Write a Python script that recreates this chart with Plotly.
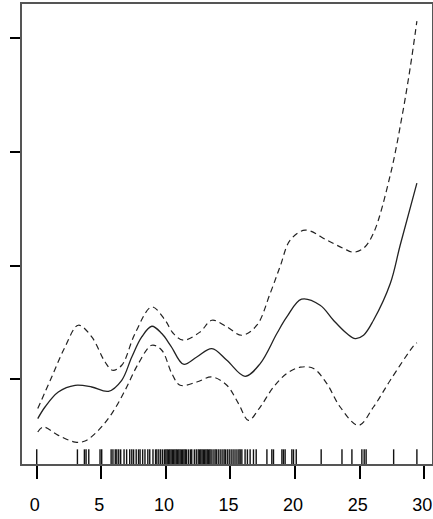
import plotly.graph_objects as go

# Smooth term estimate s(x) with its pointwise confidence band
fit_x = [0.08, 0.64, 1.67, 2.97, 4.26, 5.55, 6.58, 7.36, 8.13, 8.91, 9.68, 10.4,
         11.36, 12.39, 13.56, 14.72, 16.13, 17.3, 18.59, 19.36, 20.5, 21.94, 22.97,
         24.01, 24.66, 25.3, 26.07, 27.37, 28.14, 29.43]
fit_y = [-0.346, -0.244, -0.112, -0.053, -0.068, -0.106, -0.009, 0.196, 0.372,
         0.466, 0.402, 0.290, 0.132, 0.196, 0.270, 0.167, 0.026, 0.138, 0.402,
         0.548, 0.704, 0.651, 0.519, 0.402, 0.358, 0.387, 0.519, 0.842, 1.180,
         1.724]

upper_x = [0.08, 1.16, 2.19, 3.22, 4.26, 5.29, 5.86, 6.58, 7.61, 8.91, 9.94, 10.58,
           11.36, 12.65, 13.56, 14.72, 15.88, 17.04, 18.07, 18.85, 19.62, 20.78,
           22.46, 23.75, 24.52, 25.3, 26.07, 27.37, 28.27, 28.92, 29.43]
upper_y = [-0.258, 0.020, 0.284, 0.475, 0.372, 0.152, 0.079, 0.123, 0.402, 0.636,
           0.519, 0.402, 0.343, 0.416, 0.519, 0.460, 0.387, 0.475, 0.754, 0.994,
           1.223, 1.311, 1.223, 1.150, 1.117, 1.152, 1.284, 1.795, 2.305, 2.745,
           3.149]

lower_x = [0.08, 0.51, 1.67, 2.97, 3.74, 4.77, 5.81, 6.84, 7.87, 8.91, 9.68, 10.46,
           11.1, 12.39, 13.56, 14.72, 15.62, 16.39, 17.3, 18.33, 19.36, 20.4, 21.43,
           22.46, 23.49, 24.91, 26.07, 27.37, 29.17, 29.43]
lower_y = [-0.464, -0.420, -0.493, -0.552, -0.543, -0.449, -0.302, -0.097, 0.138,
           0.299, 0.255, 0.050, -0.053, -0.024, 0.020, -0.053, -0.214, -0.361,
           -0.244, -0.068, 0.050, 0.106, 0.094, -0.038, -0.244, -0.405, -0.244,
           -0.009, 0.293, 0.320]

# Observed covariate values (rug)
rug_x = [0.0, 3.15, 3.69, 3.82, 4.03, 4.9, 5.03, 5.76, 5.9, 6.08, 6.2, 6.35, 6.5,
         6.76, 6.96, 7.2, 7.36, 7.5, 7.7, 7.88, 8.0, 8.2, 8.38, 8.6, 8.75, 9.0,
         9.2, 9.3, 9.45, 9.6, 9.75, 9.9, 10.0, 10.1, 10.2, 10.3, 10.4, 10.5, 10.6,
         10.7, 10.8, 10.9, 11.0, 11.1, 11.2, 11.3, 11.4, 11.5, 11.6, 11.75, 11.9,
         12.0, 12.2, 12.35, 12.5, 12.6, 12.7, 12.8, 12.9, 13.0, 13.1, 13.2, 13.3,
         13.4, 13.5, 13.65, 13.8, 13.9, 14.05, 14.2, 14.35, 14.5, 14.6, 14.75,
         14.9, 15.05, 15.2, 15.35, 15.5, 15.65, 15.75, 15.88, 16.13, 16.31, 16.52,
         16.78, 16.99, 17.82, 18.2, 18.33, 18.98, 19.1, 19.23, 19.75, 19.88, 20.09,
         22.02, 23.63, 24.4, 25.17, 25.35, 25.5, 27.63, 29.43]

x_ticks = [0, 5, 10, 15, 20, 25, 30]
y_ticks = [0, 1, 2, 3]

X_RANGE = [-1.14, 30.6]
Y_RANGE = [-0.745, 3.299]
RUG_TOP = -0.616

rug_px, rug_py = [], []
for v in rug_x:
    rug_px += [v, v, None]
    rug_py += [Y_RANGE[0], RUG_TOP, None]

spline = dict(shape="spline", smoothing=1.0)
dash = "6px,4px"

fig = go.Figure()
fig.add_trace(go.Scatter(x=rug_px, y=rug_py, mode="lines",
                         line=dict(color="#111111", width=1.4), hoverinfo="skip"))
fig.add_trace(go.Scatter(x=upper_x, y=upper_y, mode="lines",
                         line=dict(color="#222222", width=1.2, dash=dash, **spline)))
fig.add_trace(go.Scatter(x=lower_x, y=lower_y, mode="lines",
                         line=dict(color="#222222", width=1.2, dash=dash, **spline)))
fig.add_trace(go.Scatter(x=fit_x, y=fit_y, mode="lines",
                         line=dict(color="#222222", width=1.3, **spline)))

fig.update_layout(
    width=433, height=519,
    margin=dict(l=22, r=1, t=4, b=55),
    paper_bgcolor="white", plot_bgcolor="white",
    showlegend=False,
    font=dict(family="Liberation Sans, Arial, sans-serif", color="black"),
)
fig.update_xaxes(
    range=X_RANGE, tickmode="array", tickvals=x_ticks,
    ticktext=[str(t) for t in x_ticks],
    ticks="outside", ticklen=13, tickwidth=1.5, tickcolor="black",
    tickfont=dict(size=18, family="Liberation Sans, Arial, sans-serif"),
    ticklabelstandoff=11, ticklabelshift=-2, ticklabeloverflow="allow",
    automargin=False,
    showline=True, linecolor="#555555", linewidth=1.5, mirror=True,
    showgrid=False, zeroline=False,
)
fig.update_yaxes(
    range=Y_RANGE, tickmode="array", tickvals=y_ticks,
    showticklabels=False, automargin=False,
    ticks="outside", ticklen=10, tickwidth=1.5, tickcolor="black",
    showline=True, linecolor="#555555", linewidth=1.5, mirror=True,
    showgrid=False, zeroline=False,
)

fig.write_html("out.html")
